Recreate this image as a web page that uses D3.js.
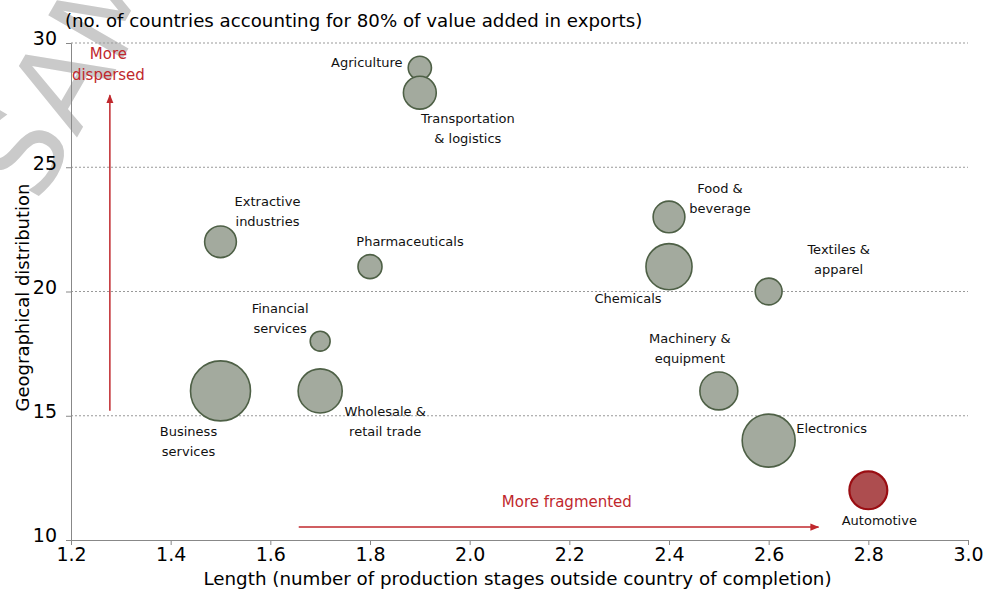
<!DOCTYPE html>
<meta charset="utf-8">
<style>
  body { margin: 0; background: #fff; }
  svg { font-family: "DejaVu Sans", "Noto Sans", sans-serif; }
  .grid line { stroke: #999; stroke-dasharray: 2,2; }
  .lbl { font-size: 13px; fill: #111; }
  .red { fill: #c0282d; font-size: 15px; }
</style>
<body>
<script src="https://cdn.jsdelivr.net/npm/d3@7"></script>
<script>

var width = 994,
    height = 590,
    margin = {top: 43, right: 26, bottom: 50, left: 71};

// sector data
var sectors = ["Agriculture", "Transportation\n& logistics", "Extractive\nindustries", "Pharmaceuticals",
  "Financial\nservices", "Business\nservices", "Wholesale &\nretail trade", "Food &\nbeverage",
  "Chemicals", "Textiles &\napparel", "Machinery &\nequipment", "Electronics", "Automotive"];
var lengths = [1.9, 1.9, 1.5, 1.8, 1.7, 1.5, 1.7, 2.4, 2.4, 2.6, 2.5, 2.6, 2.8];
var spread  = [29, 28, 22, 21, 18, 16, 16, 23, 21, 20, 16, 14, 12];
var sizes   = [15, 30, 28, 16, 11, 100, 54, 28, 59, 20, 40, 78, 40];
var highlight = "Automotive";

// label offsets from bubble centre (px), layout only
var labelDx = [-53, 48, 47, 40, -40, -32, 65, 51, -41, 70, -29, 63, 11];
var labelDy = [-6, 35, -31, -26, -23, 50, 30, -19, 31, -33, -43, -13, 30];

var xTicks = [1.2, 1.4, 1.6, 1.8, 2.0, 2.2, 2.4, 2.6, 2.8, 3.0];
var yTicks = [10, 15, 20, 25, 30];

var svg = d3.select("body").append("svg")
    .attr("width", width)
    .attr("height", height);

// watermark
svg.append("text")
    .attr("transform", "translate(38,205) rotate(-60)")
    .style("font-size", "118px")
    .style("fill", "#cacaca")
    .text("SAMPLE");

var x = d3.scaleLinear().domain([1.2, 3.0]).range([margin.left, width - margin.right]);
var y = d3.scaleLinear().domain([10, 30]).range([height - margin.bottom, margin.top]);
var r = d3.scaleSqrt().domain([0, 100]).range([0, 30]);

// gridlines
svg.append("g").attr("class", "grid")
  .selectAll("line")
  .data(yTicks.slice(1))
  .enter().append("line")
    .attr("x1", x(1.2)).attr("x2", x(3.0))
    .attr("y1", function(d) { return y(d); })
    .attr("y2", function(d) { return y(d); });

var xAxis = svg.append("g")
    .attr("transform", "translate(0," + y(10) + ")")
    .call(d3.axisBottom(x).tickValues(xTicks).tickFormat(d3.format(".1f")).tickSize(5).tickPadding(3));
var yAxis = svg.append("g")
    .attr("transform", "translate(" + x(1.2) + ",0)")
    .call(d3.axisLeft(y).tickValues(yTicks).tickSize(5).tickPadding(9));

[xAxis, yAxis].forEach(function(a) {
  a.select(".domain").attr("stroke", "#888");
  a.selectAll(".tick line").attr("stroke", "#888");
  a.selectAll(".tick text").style("font-size", "19px").attr("fill", "#000")
    .style("font-family", "DejaVu Sans");
});
yAxis.selectAll(".tick text").attr("dy", "0.1em");

svg.append("text")
    .attr("x", 65).attr("y", 27)
    .style("font-size", "18.2px")
    .text("(no. of countries accounting for 80% of value added in exports)");

svg.append("text")
    .attr("x", (203 + 832) / 2).attr("y", 585)
    .attr("text-anchor", "middle")
    .style("font-size", "18.3px")
    .text("Length (number of production stages outside country of completion)");

svg.append("text")
    .attr("transform", "translate(29," + ((180 + 415) / 2) + ") rotate(-90)")
    .attr("text-anchor", "middle")
    .style("font-size", "18px")
    .text("Geographical distribution");

// arrows
var defs = svg.append("defs");
defs.append("marker")
    .attr("id", "arr")
    .attr("viewBox", "0 0 10 10")
    .attr("refX", 9).attr("refY", 5)
    .attr("markerWidth", 6).attr("markerHeight", 6)
    .attr("orient", "auto")
  .append("path")
    .attr("d", "M0,1L10,5L0,9z")
    .attr("fill", "#c0282d");

svg.append("line")
    .attr("x1", x(1.278)).attr("x2", x(1.278))
    .attr("y1", y(15.2)).attr("y2", y(27.9))
    .attr("stroke", "#c0282d").attr("stroke-width", 1.5)
    .attr("marker-end", "url(#arr)");
svg.append("line")
    .attr("x1", x(1.657)).attr("x2", x(2.7))
    .attr("y1", y(10.52)).attr("y2", y(10.52))
    .attr("stroke", "#c0282d").attr("stroke-width", 1.5)
    .attr("marker-end", "url(#arr)");

svg.append("text").attr("class", "red")
    .attr("x", x(1.275)).attr("text-anchor", "middle")
  .selectAll("tspan").data(["More", "dispersed"]).enter().append("tspan")
    .attr("x", x(1.275))
    .attr("y", function(d, i) { return 59 + i * 21; })
    .text(function(d) { return d; });

svg.append("text").attr("class", "red")
    .attr("x", x(2.195)).attr("y", 507)
    .attr("text-anchor", "middle")
    .text("More fragmented");

// bubbles
var data = sectors.map(function(s, i) {
  return {name: s, x: lengths[i], y: spread[i], size: sizes[i], dx: labelDx[i], dy: labelDy[i]};
});

svg.append("g").selectAll("circle")
  .data(data)
  .enter().append("circle")
    .attr("cx", function(d) { return x(d.x); })
    .attr("cy", function(d) { return y(d.y); })
    .attr("r", function(d) { return r(d.size); })
    .attr("fill", function(d) { return d.name == highlight ? "#ad4d4f" : "#a3aa9e"; })
    .attr("stroke", function(d) { return d.name == highlight ? "#9a0d12" : "#4e6046"; })
    .attr("stroke-width", function(d) { return d.name == highlight ? 2.2 : 1.6; });

var labels = svg.append("g").selectAll("text")
  .data(data)
  .enter().append("text")
    .attr("class", "lbl")
    .attr("text-anchor", "middle");

labels.each(function(d) {
  var lines = d.name.split("\n");
  var cx = x(d.x) + d.dx,
      cy = y(d.y) + d.dy - (lines.length - 1) * 10;
  d3.select(this).selectAll("tspan").data(lines).enter().append("tspan")
    .attr("x", cx)
    .attr("y", function(l, i) { return cy + i * 20 + 5; })
    .text(function(l) { return l; });
});

</script>
</body>
</html>
